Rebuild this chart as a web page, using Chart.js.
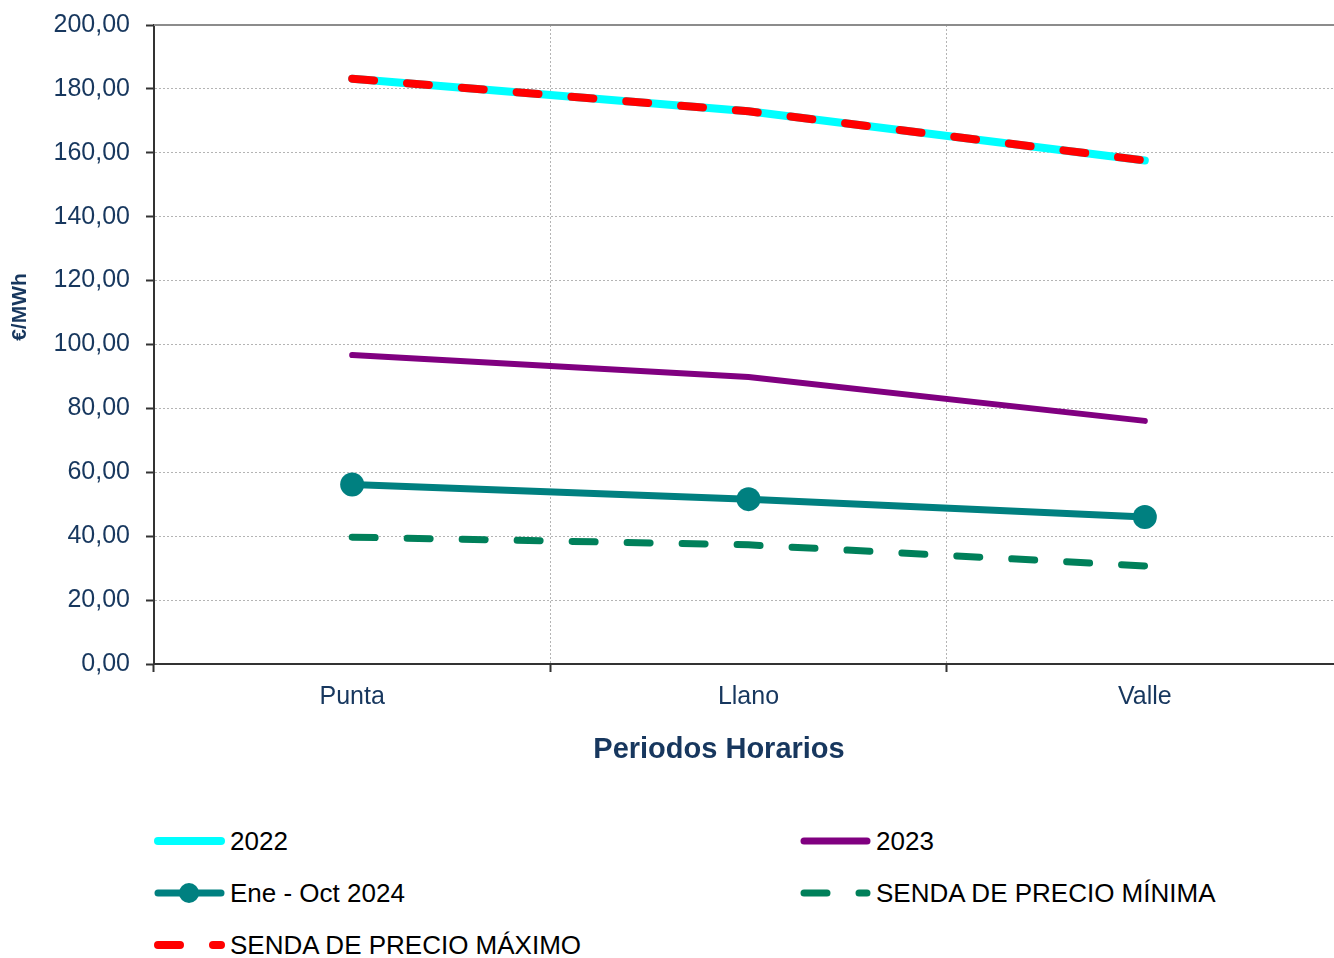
<html><head><meta charset="utf-8">
<script src="https://cdn.jsdelivr.net/npm/chart.js@4.4.0/dist/chart.umd.min.js"></script>
<style>
 body{margin:0;overflow:hidden;background:#fff;font-family:"Liberation Sans",Arial,sans-serif;}
 #wrap{position:absolute;left:0;top:-6px;width:1355px;height:786px;}
 #legend{position:absolute;left:154px;top:815px;width:1180px;display:grid;grid-template-columns:646px 500px;grid-auto-rows:52px;}
 .item{display:flex;align-items:center;font-size:26px;color:#000;height:52px;}
 .item svg{flex:none;}
</style>
</head>
<body>
<div id="wrap"><canvas id="myChart" width="1355" height="786"></canvas></div>
<div id="legend"></div>
<script>
var periodos = ['Punta', 'Llano', 'Valle'];
var y2022 = [183.2, 173.0, 157.6];
var y2023 = [96.7, 89.8, 76.1];
var y2024 = [56.2, 51.6, 46.0];
var sendaMin = [39.7, 37.3, 30.7];
var sendaMax = [183.2, 173.0, 157.6];
var yMin = 0, yMax = 200, yStep = 20;

var navy = '#17375E';
var shiftY = 6; // el canvas esta desplazado 6px hacia arriba

var titles = {
  id: 'titles',
  afterDraw: function(chart) {
    var c = chart.ctx, a = chart.chartArea;
    c.save();
    // borde superior del area de trazado
    c.strokeStyle = '#8c8c8c';
    c.lineWidth = 2;
    c.beginPath(); c.moveTo(a.left, a.top); c.lineTo(a.right, a.top); c.stroke();
    c.fillStyle = navy;
    c.textAlign = 'center';
    c.textBaseline = 'middle';
    c.font = 'bold 29px "Liberation Sans", Arial, sans-serif';
    c.fillText('Periodos Horarios', 719, 750 + shiftY);
    c.translate(20, 307 + shiftY);
    c.rotate(-Math.PI / 2);
    c.font = 'bold 21px "Liberation Sans", Arial, sans-serif';
    c.fillText('€/MWh', 0, 0);
    c.restore();
  }
};

var ctx = document.getElementById('myChart');
var myChart = new Chart(ctx, {
  type: 'line',
  data: {
    labels: periodos,
    datasets: [
      {label: '2022', data: y2022, borderColor: '#00FFFF', backgroundColor: '#00FFFF', borderWidth: 8, pointRadius: 0, borderCapStyle: 'round', order: 2},
      {label: '2023', data: y2023, borderColor: '#800080', backgroundColor: '#800080', borderWidth: 6, pointRadius: 0, borderCapStyle: 'round', order: 3},
      {label: 'Ene - Oct 2024', data: y2024, borderColor: '#008080', backgroundColor: '#008080', borderWidth: 7, pointRadius: 12, pointBorderWidth: 0, pointStyle: 'circle', order: 1},
      {label: 'SENDA DE PRECIO MÍNIMA', data: sendaMin, borderColor: '#00805A', backgroundColor: '#00805A', borderWidth: 7, pointRadius: 0, borderDash: [23, 32], borderCapStyle: 'round', order: 4},
      {label: 'SENDA DE PRECIO MÁXIMO', data: sendaMax, borderColor: '#FF0000', backgroundColor: '#FF0000', borderWidth: 8, pointRadius: 0, borderDash: [22, 33], borderCapStyle: 'round', order: 0}
    ]
  },
  options: {
    responsive: false,
    animation: false,
    layout: {padding: {top: 25, right: 0, left: 0, bottom: 0}},
    plugins: {legend: {display: false}, tooltip: {enabled: false}},
    scales: {
      x: {
        offset: true,
        grid: {offset: true, color: '#b4b4b4', lineWidth: 1, tickLength: 8, tickColor: '#333', tickWidth: 2},
        border: {color: '#333', width: 2, dash: [2, 2]},
        ticks: {color: navy, font: {family: 'Liberation Sans', size: 25}, padding: 10},
        afterFit: function(s) { s.height = 116; }
      },
      y: {
        min: yMin, max: yMax,
        grid: {color: '#b4b4b4', lineWidth: 1, tickLength: 8, tickColor: '#333', tickWidth: 2},
        border: {color: '#333', width: 2, dash: [2, 2]},
        ticks: {
          stepSize: yStep, color: navy, padding: 16,
          font: {family: 'Liberation Sans', size: 25},
          callback: function(v) { return v.toFixed(2).replace('.', ','); }
        },
        afterFit: function(s) { s.width = 154; }
      }
    }
  },
  plugins: [titles]
});

// leyenda en dos columnas
var legendOrder = [0, 1, 2, 3, 4];
var leg = document.getElementById('legend');
legendOrder.forEach(function(i) {
  var ds = myChart.data.datasets[i];
  var dash = ds.borderDash ? ' stroke-dasharray="' + ds.borderDash.join(' ') + '"' : '';
  var svg = '<svg width="76" height="20"><line x1="4" y1="10" x2="67" y2="10" stroke="' + ds.borderColor +
    '" stroke-width="' + Math.max(ds.borderWidth, 7) + '" stroke-linecap="round"' + dash + '/>';
  if (ds.pointRadius > 0) svg += '<circle cx="35" cy="10" r="10" fill="' + ds.backgroundColor + '"/>';
  svg += '</svg>';
  var d = document.createElement('div');
  d.className = 'item';
  d.innerHTML = svg + '<span>' + ds.label + '</span>';
  leg.appendChild(d);
});
</script>
</body></html>
